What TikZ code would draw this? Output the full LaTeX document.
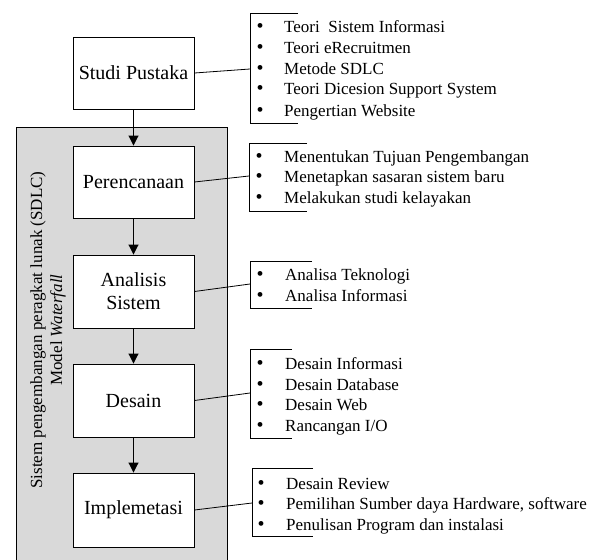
\documentclass[tikz,border=0pt]{standalone}
\usepackage{fontspec}
\setmainfont{Liberation Serif}
\usetikzlibrary{arrows.meta}
\tikzset{
  stage/.style={draw, line width=0.9pt, fill=white, minimum width=121pt, minimum height=72pt, inner sep=0pt, align=center, font=\fontsize{20}{23}\selectfont},
  flow/.style={line width=0.9pt, -{Triangle[length=10pt,width=10pt]}},
  link/.style={line width=0.8pt},
  bracketline/.style={line width=0.9pt},
  item/.style={anchor=base west, inner sep=0pt, font=\fontsize{17}{20}\selectfont},
  dot/.style={anchor=base, inner sep=0pt, font=\fontsize{20}{20}\selectfont},
  sidelabel/.style={anchor=base, rotate=90, inner sep=0pt, font=\fontsize{17}{20}\selectfont}
}
\begin{document}
\begin{tikzpicture}[x=1pt,y=1pt]
\useasboundingbox (0,0) rectangle (601,-559);
% gray frame
\draw[line width=0.9pt, fill=black!15] (16,-565) -- (16,-127) -- (227,-127) -- (227,-565);
\node[sidelabel] (lab1) at (42,-330) {Sistem pengembangan peragkat lunak (SDLC)};
\node[sidelabel] (lab2) at (62,-330) {Model \textit{Waterfall}};
% stages
\node[stage] (sp) at (133.5,-73) {Studi Pustaka};
\node[stage] (pr) at (133.5,-182) {Perencanaan};
\node[stage, minimum height=73pt] (an) at (133.5,-291.5) {Analisis\\Sistem};
\node[stage, minimum height=73pt] (de) at (133.5,-400.5) {Desain};
\node[stage, minimum height=74pt] (im) at (133.5,-510) {Implemetasi};
\draw[flow] (sp) -- (pr);
\draw[flow] (pr) -- (an);
\draw[flow] (an) -- (de);
\draw[flow] (de) -- (im);
% brackets
\draw[bracketline] (298,-13) -- (250,-13) -- (250,-123) -- (298,-123);
\draw[bracketline] (307,-143) -- (249,-143) -- (249,-211) -- (307,-211);
\draw[bracketline] (312,-261) -- (250,-261) -- (250,-308) -- (312,-308);
\draw[bracketline] (292,-349) -- (250,-349) -- (250,-438) -- (292,-438);
\draw[bracketline] (313,-468) -- (252,-468) -- (252,-536) -- (313,-536);
\coordinate (c1) at (250,-69);
\coordinate (c2) at (249,-176);
\coordinate (c3) at (250,-284);
\coordinate (c4) at (250,-393);
\coordinate (c5) at (252,-503);
\draw[link] (sp.east) -- (c1);
\draw[link] (pr.east) -- (c2);
\draw[link] (an.east) -- (c3);
\draw[link] (de.east) -- (c4);
\draw[link] (im.east) -- (c5);
% list 1
\node[dot] (d11) at (260,-33) {•}; \node[item] (t11) at (284,-33) {Teori\ \ Sistem Informasi};
\node[dot] (d12) at (260,-54) {•}; \node[item] (t12) at (284,-54) {Teori eRecruitmen};
\node[dot] (d13) at (260,-74.5) {•}; \node[item] (t13) at (284,-74.5) {Metode SDLC};
\node[dot] (d14) at (260,-95) {•}; \node[item] (t14) at (284,-95) {Teori Dicesion Support System};
\node[dot] (d15) at (260,-116) {•}; \node[item] (t15) at (284,-116) {Pengertian Website};
% list 2
\node[dot] (d21) at (259,-162) {•}; \node[item] (t21) at (284,-162) {Menentukan Tujuan Pengembangan};
\node[dot] (d22) at (259,-182.5) {•}; \node[item] (t22) at (284,-182.5) {Menetapkan sasaran sistem baru};
\node[dot] (d23) at (259,-203) {•}; \node[item] (t23) at (284,-203) {Melakukan studi kelayakan};
% list 3
\node[dot] (d31) at (260,-280) {•}; \node[item] (t31) at (285,-280) {Analisa Teknologi};
\node[dot] (d32) at (260,-301) {•}; \node[item] (t32) at (285,-301) {Analisa Informasi};
% list 4
\node[dot] (d41) at (260,-369) {•}; \node[item] (t41) at (285,-369) {Desain Informasi};
\node[dot] (d42) at (260,-390) {•}; \node[item] (t42) at (285,-390) {Desain Database};
\node[dot] (d43) at (260,-410) {•}; \node[item] (t43) at (285,-410) {Desain Web};
\node[dot] (d44) at (260,-431) {•}; \node[item] (t44) at (285,-431) {Rancangan I/O};
% list 5
\node[dot] (d51) at (261,-489) {•}; \node[item] (t51) at (286,-489) {Desain Review};
\node[dot] (d52) at (261,-509) {•}; \node[item] (t52) at (286,-509) {Pemilihan Sumber daya Hardware, software};
\node[dot] (d53) at (261,-530) {•}; \node[item] (t53) at (286,-530) {Penulisan Program dan instalasi};
\end{tikzpicture}
\end{document}
